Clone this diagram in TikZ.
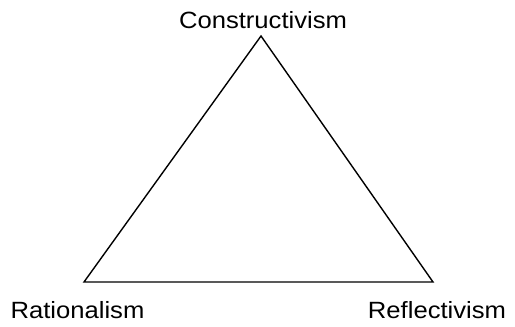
\documentclass[tikz,border=0pt]{standalone}
\usepackage{fontspec}
\setmainfont{Liberation Sans}
\newcommand{\widetext}[1]{\scalebox{1.09}[1]{#1}}
\begin{document}
\begin{tikzpicture}[x=1pt,y=-1pt,
  lbl/.style={inner sep=0pt,font=\fontsize{23.5}{27}\selectfont,anchor=base},
  edge/.style={line width=1.4pt,line join=miter}]
\useasboundingbox (0,0) rectangle (515,327);
\coordinate (top) at (261,36);
\coordinate (left) at (84,282);
\coordinate (right) at (433,282);
\draw[edge] (top) -- (right) -- (left) -- cycle;
\node[lbl] (c) at (263,28) {\widetext{Constructivism}};
\node[lbl] (r) at (77.5,318) {\widetext{Rationalism}};
\node[lbl] (f) at (437,318) {\widetext{Reflectivism}};
\end{tikzpicture}
\end{document}
